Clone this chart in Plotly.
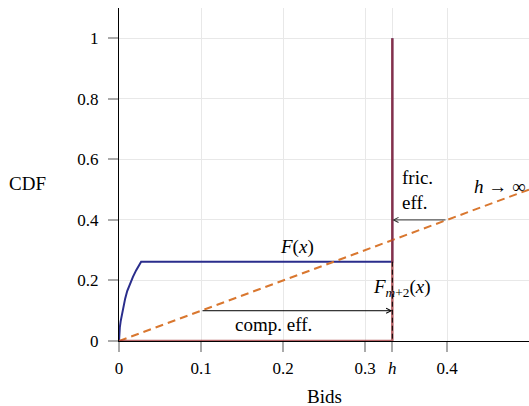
import plotly.graph_objects as go

h = 1/3
# F(x): steep concave rise then flat, jumps to 1 at h
f_x = [0, 0.0005, 0.001, 0.002, 0.003, 0.005, 0.0075, 0.01, 0.0134, 0.017, 0.021, 0.027, h, h]
f_y = [0, 0.03, 0.045, 0.065, 0.08, 0.11, 0.14, 0.165, 0.19, 0.212, 0.234, 0.262, 0.262, 1.0]
# F_{m+2}(x): zero until h, then jumps to 1
fm_x = [0, h, h]
fm_y = [0, 0, 1.0]
# limit h -> infinity: 45-degree line
lim_x = [0, 0.5]
lim_y = [0, 0.5]
# dashed drop of F at h
drop_x = [h, h]
drop_y = [0.262, 0]

x_ticks = [0, 0.1, 0.2, 0.3, h, 0.4]
x_ticktext = ["0", "0.1", "0.2", "0.3", "<i>h</i>", "0.4"]
y_ticks = [0, 0.2, 0.4, 0.6, 0.8, 1]
y_ticktext = ["0", "0.2", "0.4", "0.6", "0.8", "1"]

FONT = "'Liberation Serif', 'DejaVu Serif', serif"

fig = go.Figure()
fig.add_trace(go.Scatter(x=f_x, y=f_y, mode="lines",
                         line=dict(color="#2a2d8c", width=2), cliponaxis=False))
fig.add_trace(go.Scatter(x=lim_x, y=lim_y, mode="lines",
                         line=dict(color="#d9772f", width=2, dash="8px,5px"), cliponaxis=False))
fig.add_trace(go.Scatter(x=fm_x, y=fm_y, mode="lines", opacity=0.75,
                         line=dict(color="rgb(160,50,55)", width=2.5), cliponaxis=False))
fig.add_trace(go.Scatter(x=drop_x, y=drop_y, mode="lines",
                         line=dict(color="black", width=1, dash="5px,3px"), cliponaxis=False))

# arrows
fig.add_annotation(x=h, y=0.1, ax=0.1, ay=0.1, xref="x", yref="y", axref="x", ayref="y",
                   showarrow=True, arrowhead=5, arrowsize=1, arrowwidth=1, arrowcolor="black",
                   text="")
fig.add_annotation(x=h, y=0.4, ax=0.4, ay=0.4, xref="x", yref="y", axref="x", ayref="y",
                   showarrow=True, arrowhead=5, arrowsize=1, arrowwidth=1, arrowcolor="#333",
                   text="")

tf = dict(family=FONT, size=19, color="black")
fig.add_annotation(x=0.188, y=0.053, text="comp. eff.", showarrow=False, font=tf)
fig.add_annotation(x=0.343, y=0.50, text="fric.<br>eff.", showarrow=False, font=tf,
                   xanchor="left", align="left")
fig.add_annotation(x=0.217, y=0.31, text="<i>F</i>(<i>x</i>)", showarrow=False, font=tf)
fig.add_annotation(x=0.345, y=0.175, text="<i>F</i><sub><i>m</i>+2</sub>(<i>x</i>)",
                   showarrow=False, font=tf)
fig.add_annotation(x=0.499, y=0.51, text="<i>h</i> → ∞", showarrow=False, font=tf,
                   xanchor="right")

fig.add_annotation(x=-0.222, y=0.474, xref="paper", yref="paper", text="CDF",
                   showarrow=False, font=tf, xanchor="center", yanchor="middle")
fig.add_annotation(x=0.502, y=-0.168, xref="paper", yref="paper", text="Bids",
                   showarrow=False, font=tf, xanchor="center", yanchor="middle")

fig.update_layout(
    width=529, height=406,
    margin=dict(l=119, r=0, t=8, b=65),
    paper_bgcolor="white", plot_bgcolor="white",
    showlegend=False,
    font=dict(family=FONT, size=17, color="black"),
    xaxis=dict(range=[0, 0.5], tickvals=x_ticks, ticktext=x_ticktext,
               showgrid=True, gridcolor="#e8e8e8", gridwidth=1,
               showline=True, linecolor="black", linewidth=1,
               ticks="outside", ticklen=10, tickcolor="#aaaaaa", tickwidth=1.5,
               zeroline=False, ticklabelstandoff=2),
    yaxis=dict(range=[0, 1.1], tickvals=y_ticks, ticktext=y_ticktext,
               showgrid=True, gridcolor="#e8e8e8", gridwidth=1,
               showline=True, linecolor="black", linewidth=1,
               ticks="outside", ticklen=10, tickcolor="#aaaaaa", tickwidth=1.5,
               zeroline=False, ticklabelstandoff=6),
)

fig.write_html("out.html", post_script="document.body.style.margin='0';",
               config={"displayModeBar": False})
